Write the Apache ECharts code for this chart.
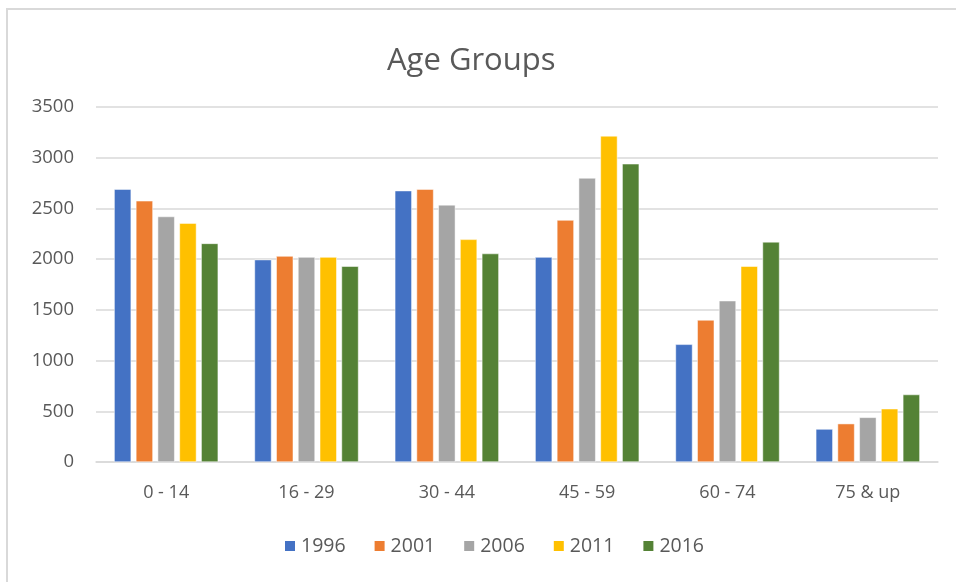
<!DOCTYPE html>
<html>
<head>
<meta charset="utf-8">
<script src="https://cdn.jsdelivr.net/npm/echarts@6/dist/echarts.min.js"></script>
<style>
  html, body { margin: 0; padding: 0; background: #fff; }
  #chart { width: 956px; height: 582px; }
</style>
</head>
<body>
<div id="chart"></div>
<script>
// age group categories
const categories = ["0 - 14", "16 - 29", "30 - 44", "45 - 59", "60 - 74", "75 & up"];
// census years
const years = ["1996", "2001", "2006", "2011", "2016"];
const colors = ["#4472C4", "#ED7D31", "#A5A5A5", "#FFC000", "#548235"];

const v1996 = [2690, 1995, 2675, 2020, 1160, 325];
const v2001 = [2575, 2030, 2690, 2385, 1400, 378];
const v2006 = [2420, 2020, 2535, 2800, 1590, 440];
const v2011 = [2355, 2020, 2195, 3215, 1930, 525];
const v2016 = [2155, 1930, 2055, 2940, 2170, 665];
const values = [v1996, v2001, v2006, v2011, v2016];

const yTicks = [0, 500, 1000, 1500, 2000, 2500, 3000, 3500];

const chart = echarts.init(document.getElementById("chart"));
const font = "'Open Sans', 'Noto Sans', sans-serif";

chart.setOption({
	animation: false,
	color: colors,
	title: {
		text: "Age Groups",
		left: 382,
		top: 41,
		textStyle: {
			fontFamily: font,
			fontSize: 31,
			fontWeight: "normal",
			color: "#595959"
		}
	},
	grid: {
		left: 96,
		right: 18,
		top: 107,
		bottom: 120
	},
	legend: {
		bottom: 21,
		left: 278,
		icon: "rect",
		itemWidth: 12,
		itemHeight: 12,
		itemGap: 27,
		textStyle: {
			fontFamily: font,
			fontSize: 19.5,
			color: "#595959"
		},
		data: years
	},
	xAxis: {
		type: "category",
		data: categories,
		axisTick: { show: false },
		axisLine: { lineStyle: { color: "#d9d9d9", width: 1.5 } },
		axisLabel: {
			fontFamily: font,
			fontSize: 18,
			color: "#595959",
			margin: 22
		}
	},
	yAxis: {
		type: "value",
		min: yTicks[0],
		max: yTicks[yTicks.length - 1],
		interval: 500,
		axisLine: { show: false },
		axisTick: { show: false },
		splitLine: { lineStyle: { color: "#d9d9d9", width: 1.5 } },
		axisLabel: {
			fontFamily: font,
			fontSize: 18.5,
			color: "#595959",
			margin: 22,
			formatter: (v) => String(v)
		}
	},
	graphic: [
		{
			type: "rect",
			shape: { x: 7, y: 9, width: 1200, height: 1200 },
			style: { fill: "none", stroke: "#d9d9d9", lineWidth: 2 },
			silent: true
		}
	],
	series: years.map((y, i) => ({
		name: y,
		type: "bar",
		data: values[i],
		barWidth: 17,
		barGap: "28%",
		itemStyle: { borderColor: "#fff", borderWidth: 0.5 }
	}))
});
</script>
</body>
</html>
